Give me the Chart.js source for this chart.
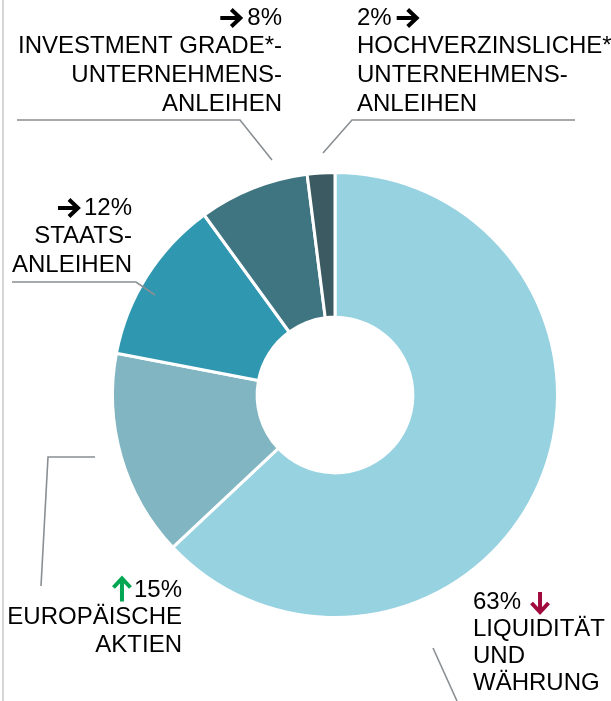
<!DOCTYPE html>
<html>
<head>
<meta charset="utf-8">
<script src="https://cdn.jsdelivr.net/npm/chart.js@4.4.1/dist/chart.umd.min.js"></script>
<style>
  html, body { margin: 0; padding: 0; background: #fff; }
  #wrap { position: relative; width: 611px; height: 701px; }
  #edge { position: absolute; left: 2px; top: 0; width: 2px; height: 701px; background: #d6d6d6; }
</style>
</head>
<body>
<div id="wrap">
  <canvas id="allocChart" width="611" height="701"></canvas>
  <div id="edge"></div>
</div>
<script>
// ── data ──────────────────────────────────────────────
const categories = [
  'LIQUIDITÄT UND WÄHRUNG',
  'EUROPÄISCHE AKTIEN',
  'STAATSANLEIHEN',
  'INVESTMENT GRADE*-UNTERNEHMENSANLEIHEN',
  'HOCHVERZINSLICHE* UNTERNEHMENSANLEIHEN'
];
const labelRows = [
  ['LIQUIDITÄT', 'UND', 'WÄHRUNG'],
  ['EUROPÄISCHE', 'AKTIEN'],
  ['STAATS-', 'ANLEIHEN'],
  ['INVESTMENT GRADE*-', 'UNTERNEHMENS-', 'ANLEIHEN'],
  ['HOCHVERZINSLICHE*', 'UNTERNEHMENS-', 'ANLEIHEN']
];
const shares = [63, 15, 12, 8, 2];
const trend = ['down', 'up', 'flat', 'flat', 'flat'];

// ── style ─────────────────────────────────────────────
const sliceColors = ['#97d2e1', '#80b5c1', '#3097b1', '#3f7481', '#3c5a61'];
const trendColors = { up: '#00a651', down: '#a00a3c', flat: '#000000' };
const FONT = '24px "Liberation Sans", Arial, sans-serif';
const LINE_COLOR = '#8a8f93';

// label blocks: anchor x, align, first row y, row pitch, arrow before/after the %
const labelLayout = [
  { x: 473, align: 'left',  y: 602, pitch: 27,   arrow: 'after',  gap: 9 },
  { x: 182, align: 'right', y: 590, pitch: 27.5, arrow: 'before', gap: 2 },
  { x: 132, align: 'right', y: 208, pitch: 28.5, arrow: 'before', gap: 6 },
  { x: 282, align: 'right', y: 18,  pitch: 28.7, arrow: 'before', gap: 7 },
  { x: 357, align: 'left',  y: 18,  pitch: 28.7, arrow: 'after',  gap: 5 }
];
// leader lines (annotation only)
const leaders = [
  [[433, 648], [457, 701]],
  [[95, 457], [48, 457], [41, 586]],
  [[12, 282], [136, 282], [155, 295]],
  [[17, 120], [240, 120], [272, 160]],
  [[575, 120], [352, 120], [323, 153]]
];

function drawArrow(ctx, cx, cy, dir, color) {
  ctx.save();
  ctx.strokeStyle = color;
  ctx.lineWidth = 4;
  ctx.lineCap = 'butt';
  ctx.lineJoin = 'miter';
  ctx.translate(cx, cy);
  if (dir === 'up') ctx.rotate(-Math.PI / 2);
  if (dir === 'down') ctx.rotate(Math.PI / 2);
  const s = dir === 'up' ? 11.5 : 10;
  ctx.beginPath();
  ctx.moveTo(-s, 0); ctx.lineTo(s - 1.5, 0);
  ctx.stroke();
  ctx.beginPath();
  ctx.moveTo(s - 9, -8.5); ctx.lineTo(s, 0); ctx.lineTo(s - 9, 8.5);
  ctx.stroke();
  ctx.restore();
}

const labelPlugin = {
  id: 'sliceLabels',
  afterDraw(chart) {
    const ctx = chart.ctx;
    ctx.save();
    // leader lines
    ctx.strokeStyle = LINE_COLOR;
    ctx.lineWidth = 1.6;
    leaders.forEach(pts => {
      ctx.beginPath();
      pts.forEach(([x, y], i) => i ? ctx.lineTo(x, y) : ctx.moveTo(x, y));
      ctx.stroke();
    });
    // texts
    ctx.font = FONT;
    ctx.fillStyle = '#000';
    ctx.textBaseline = 'middle';
    shares.forEach((v, i) => {
      const L = labelLayout[i];
      const pct = v + '%';
      const w = ctx.measureText(pct).width;
      ctx.textAlign = L.align;
      ctx.fillText(pct, L.x, L.y);
      let ax;
      if (L.align === 'right') {
        ax = L.arrow === 'before' ? L.x - w - L.gap - 10 : L.x + L.gap + 10;
      } else {
        ax = L.arrow === 'after' ? L.x + w + L.gap + 10 : L.x - L.gap - 10;
      }
      const dir = trend[i] === 'flat' ? 'right' : trend[i];
      drawArrow(ctx, ax, L.y, dir, trendColors[trend[i]]);
      labelRows[i].forEach((row, r) => {
        ctx.fillText(row, L.x, L.y + L.pitch * (r + 1));
      });
    });
    ctx.restore();
  }
};

new Chart(document.getElementById('allocChart').getContext('2d'), {
  type: 'doughnut',
  data: {
    labels: categories,
    datasets: [{
      data: shares,
      backgroundColor: sliceColors,
      borderColor: '#ffffff',
      borderWidth: 3,
      hoverOffset: 0
    }]
  },
  options: {
    responsive: false,
    animation: false,
    cutout: '35%',
    layout: { padding: { left: 111, right: 52, top: 171, bottom: 82 } },
    plugins: { legend: { display: false }, tooltip: { enabled: false } }
  },
  plugins: [labelPlugin]
});
</script>
</body>
</html>
